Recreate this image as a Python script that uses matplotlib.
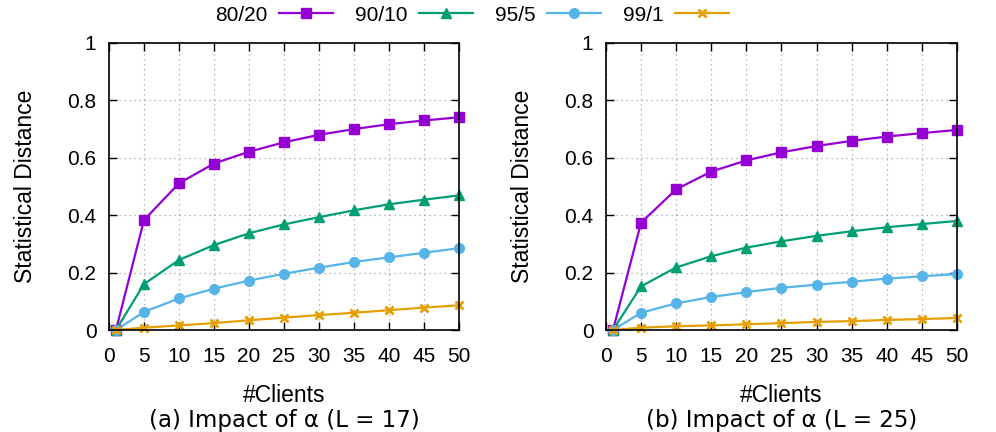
import matplotlib
matplotlib.use("Agg")
from matplotlib import pyplot as plt
from matplotlib.ticker import MultipleLocator

plt.rcParams["font.family"] = ["Liberation Sans", "DejaVu Sans"]

clients = [1, 5, 10, 15, 20, 25, 30, 35, 40, 45, 50]

# (a) L = 17
l17_80_20 = [0.0, 0.383, 0.511, 0.580, 0.621, 0.654, 0.680, 0.700, 0.717, 0.730, 0.741]
l17_90_10 = [0.0, 0.160, 0.244, 0.296, 0.337, 0.368, 0.393, 0.417, 0.438, 0.454, 0.469]
l17_95_5 = [0.0, 0.063, 0.110, 0.144, 0.172, 0.196, 0.217, 0.237, 0.253, 0.269, 0.285]
l17_99_1 = [0.0, 0.008, 0.016, 0.024, 0.034, 0.043, 0.052, 0.060, 0.069, 0.078, 0.086]

# (b) L = 25
l25_80_20 = [0.0, 0.374, 0.490, 0.552, 0.591, 0.619, 0.641, 0.659, 0.674, 0.686, 0.697]
l25_90_10 = [0.0, 0.152, 0.218, 0.257, 0.287, 0.309, 0.328, 0.344, 0.358, 0.369, 0.380]
l25_95_5 = [0.0, 0.060, 0.093, 0.115, 0.132, 0.147, 0.158, 0.168, 0.179, 0.187, 0.195]
l25_99_1 = [0.0, 0.008, 0.013, 0.016, 0.020, 0.024, 0.028, 0.031, 0.035, 0.038, 0.042]

ratios = ["80/20", "90/10", "95/5", "99/1"]
subtitles = ["(a) Impact of α (L = 17)", "(b) Impact of α (L = 25)"]

# colour, marker, size, edge width (gnuplot default palette)
STYLES = [
    ("#9400d3", "s", 6.8, 1),
    ("#009e73", "^", 7, 1),
    ("#56b4e9", "o", 7, 1),
    ("#e69f00", "x", 6, 2),
]

fig = plt.figure(figsize=(9.96, 4.32), dpi=100)
ax_a = fig.add_axes([0.1094, 0.2361, 0.3514, 0.6644])
ax_b = fig.add_axes([0.6084, 0.2361, 0.3524, 0.6644])

panels = [
    (ax_a, [l17_80_20, l17_90_10, l17_95_5, l17_99_1]),
    (ax_b, [l25_80_20, l25_90_10, l25_95_5, l25_99_1]),
]

for (ax, series), subtitle in zip(panels, subtitles):
    for vals, name, (color, marker, ms, mew) in zip(series, ratios, STYLES):
        ax.plot(
            clients,
            vals,
            color=color,
            marker=marker,
            markersize=ms,
            markeredgewidth=mew,
            linewidth=1.6,
            label=name,
            clip_on=False,
        )
    ax.set_xlim(0, 50)
    ax.set_ylim(0, 1)
    ax.xaxis.set_major_locator(MultipleLocator(5))
    ax.yaxis.set_major_locator(MultipleLocator(0.2))
    ax.yaxis.set_major_formatter(lambda v, pos: f"{v:g}")
    ax.tick_params(
        direction="in", length=6, width=1, top=True, right=True,
        labelsize=15, pad=9,
    )
    ax.tick_params(axis="x", pad=12)
    ax.grid(True, linestyle=(0, (1, 3)), color="#a0a0a0", linewidth=0.9)
    for spine in ax.spines.values():
        spine.set_linewidth(1.2)
    ax.set_ylabel("Statistical Distance", fontsize=16.5, labelpad=22)
    ax.set_xlabel("#Clients", fontsize=16.5, labelpad=13)
    ax.text(0.5, -0.275, subtitle, transform=ax.transAxes, ha="center",
            va="top", fontsize=16.5, family="DejaVu Sans")

handles, labels = ax_a.get_legend_handles_labels()
fig.legend(
    handles, labels,
    loc="upper center",
    bbox_to_anchor=(0.474, 1.03),
    ncol=4,
    frameon=False,
    markerfirst=False,
    fontsize=15,
    handlelength=2.6,
    columnspacing=1.06,
    handletextpad=0.53,
)

plt.savefig("out.png", dpi=100)
